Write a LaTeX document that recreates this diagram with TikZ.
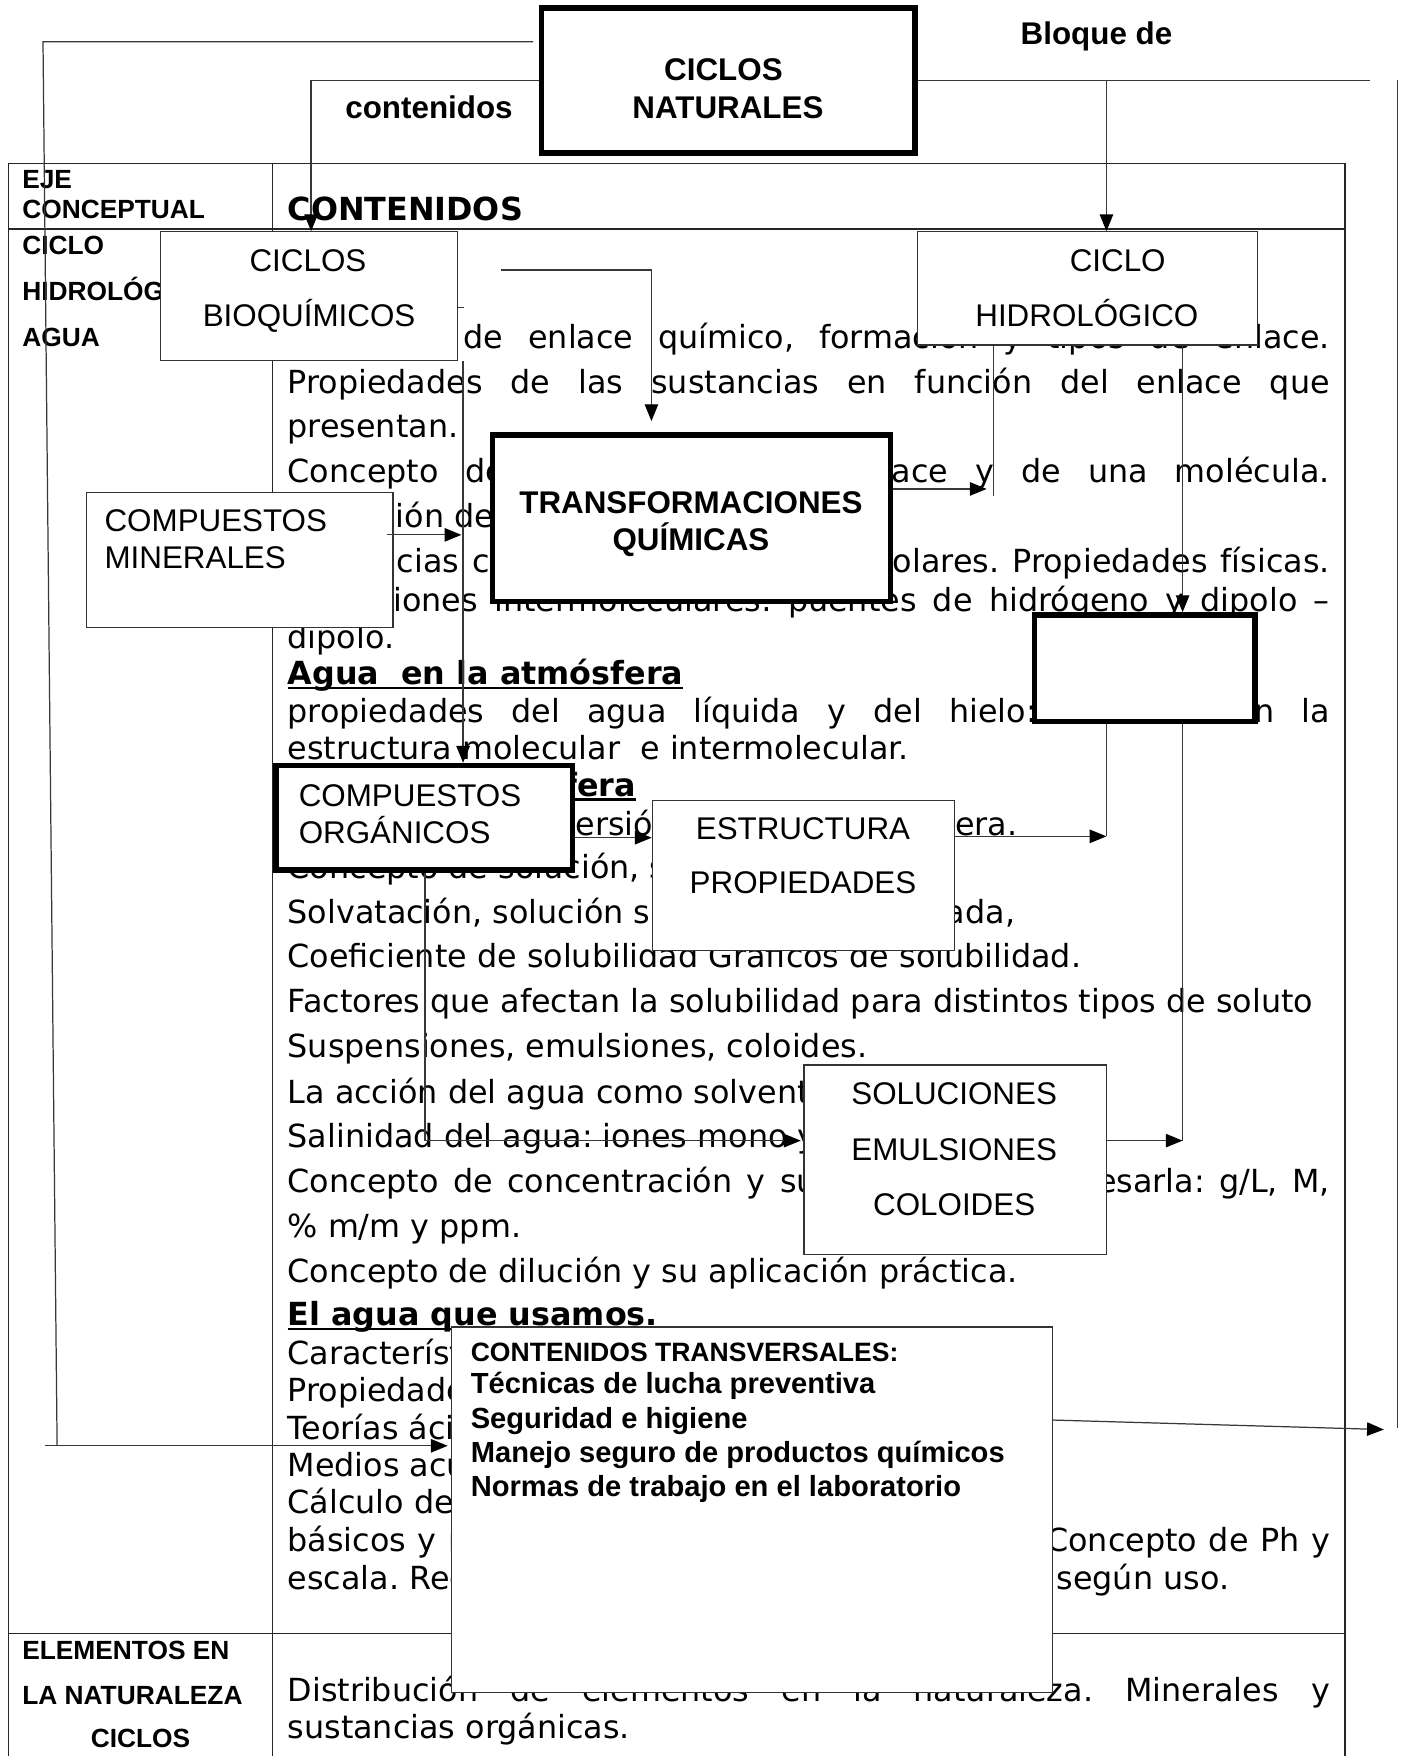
\documentclass[tikz,border=0pt]{standalone}
\usepackage{fontspec}
\setmainfont{DejaVu Sans}
\newfontfamily\ars{Liberation Sans}
\usetikzlibrary{arrows.meta}
\frenchspacing
\newcommand\bodyf{\fontsize{14.2pt}{17pt}\selectfont}
\newcommand\boxf{\ars\fontsize{14pt}{16pt}\selectfont}
\newcommand\boxbf{\ars\bfseries\fontsize{14pt}{16pt}\selectfont}
\newcommand\colbf{\ars\bfseries\fontsize{11.75pt}{14pt}\selectfont}
\newcommand\trvsmall{\ars\bfseries\fontsize{11.85pt}{14pt}\selectfont}
\newcommand\trvbig{\ars\bfseries\fontsize{13pt}{15pt}\selectfont}
\newcommand\jl[1]{\makebox[465.25pt][s]{#1}}
\newcommand\ulin[1]{\setbox0\hbox{#1}\rlap{\rule[-2pt]{\wd0}{1pt}}\box0}
\tikzset{
  tline/.style={draw=black!85, line width=0.6pt},
  thinbox/.style={draw=black!80, line width=0.55pt, fill=white, inner sep=0pt},
  thickbox/.style={draw=black, line width=2.4pt, fill=white, inner sep=0pt},
  conn/.style={draw=black!78, line width=0.55pt},
  arr/.style={conn, -{Triangle[length=7.5pt,width=6pt,color=black]}},
  body/.style={anchor=base west, inner sep=0pt, font=\bodyf},
  colt/.style={anchor=base west, inner sep=0pt, font=\colbf},
  bt/.style={anchor=base, inner sep=0pt, font=\boxf},
  btl/.style={anchor=base west, inner sep=0pt, font=\boxf},
  bbt/.style={anchor=base, inner sep=0pt, font=\boxbf},
  bbtl/.style={anchor=base west, inner sep=0pt, font=\boxbf},
}
\begin{document}
\begin{tikzpicture}[x=0.5pt,y=-0.5pt]
\useasboundingbox (0,0) rectangle (1255,1568);
\fill[white] (0,0) rectangle (1255,1568);

% ---------- table ----------
\draw[tline] (7.5,1568) -- (7.5,146) -- (1201,146) -- (1201,1568);
\draw[tline] (7.5,204.5) -- (1201,204.5);
\draw[tline] (7.5,1458.6) -- (1201,1458.6);
\draw[tline] (243.5,146) -- (243.5,1568);

% ---------- outside labels ----------
\node[bbtl] (bloque) at (911,40) {Bloque de};
\node[bbtl] (conten) at (308,105.7) {contenidos};

% ---------- left column ----------
\node[colt] (c1) at (19.5,168) {EJE};
\node[colt] (c2) at (19.5,195) {CONCEPTUAL};
\node[colt] (c3) at (19.5,227) {CICLO};
\node[colt] (c4) at (19.5,268) {HIDROLÓGICO};
\node[colt] (c5) at (19.5,309) {AGUA};
\node[colt] (c6) at (19.5,1482) {ELEMENTOS EN};
\node[colt] (c7) at (19.5,1522) {LA NATURALEZA};
\node[colt, anchor=base] (c8) at (125.5,1560) {CICLOS};

% ---------- right column ----------
\node[body, font=\bodyf\bfseries] (hdr) at (256.5,196.5) {CONTENIDOS};
\node[body] (t01) at (256.5,311) {\jl{Concepto de enlace químico, formación y tipos de enlace.}};
\node[body] (t02) at (256.5,351) {\jl{Propiedades de las sustancias en función del enlace que}};
\node[body] (t03) at (256.5,391) {presentan.};
\node[body] (t04) at (256.5,431) {\jl{Concepto de polaridad de un enlace y de una molécula.}};
\node[body] (t05) at (256.5,471) {\hspace*{-4pt}Formación de dipolos.};
\node[body] (t06) at (256.5,511) {\jl{Sustancias covalentes polares y no polares. Propiedades físicas.}};
\node[body] (t07) at (256.5,546) {\jl{\hspace*{2pt}Atracciones intermoleculares: puentes de hidrógeno y dipolo –}};
\node[body] (t08) at (256.5,579) {dipolo.};
\node[body] (t09) at (256.5,611) {\ulin{\bfseries Agua\ \ en la atmósfera}};
\node[body] (t10) at (256.5,645) {\jl{propiedades del agua líquida y del hielo: relación con la}};
\node[body] (t11) at (256.5,678) {estructura molecular\ \ e intermolecular.};
\node[body] (t12) at (256.5,711) {\ulin{\bfseries Agua en la biosfera}};
\node[body] (t13) at (256.5,746) {\hbox to 325.75pt{Concepto de\hspace{5pt} dispersión\hfill en la atmósfera.}};
\node[body] (t14) at (256.5,784) {Concepto de solución, soluto y solvente.};
\node[body] (t15) at (256.5,825) {\hbox to 324.75pt{Solvatación, solución saturada,\hfill insaturada,}};
\node[body] (t16) at (256.5,864) {Coeficiente de solubilidad Gráficos de solubilidad.};
\node[body] (t17) at (256.5,904) {Factores que afectan la solubilidad para distintos tipos de soluto};
\node[body] (t18) at (256.5,944) {Suspensiones, emulsiones, coloides.};
\node[body] (t19) at (256.5,985) {La acción del agua como solvente universal.};
\node[body] (t20) at (256.5,1025) {Salinidad del agua: iones mono y divalentes.};
\node[body] (t21) at (256.5,1065) {\jl{Concepto de concentración y sus formas de expresarla: g/L, M,}};
\node[body] (t22) at (256.5,1105) {\% m/m y ppm.};
\node[body] (t23) at (256.5,1145) {Concepto de dilución y su aplicación práctica.};
\node[body] (t24) at (256.5,1184) {\ulin{\bfseries El agua que usamos.}};
\node[body] (t25) at (256.5,1218) {Características del agua potable.};
\node[body] (t26) at (256.5,1251) {Propiedades del agua.};
\node[body] (t27) at (256.5,1285) {Teorías ácido – base.};
\node[body] (t28) at (256.5,1318) {Medios acuosos.};
\node[body] (t29) at (256.5,1351) {Cálculo de pH.};
\node[body] (t30) at (256.5,1385) {\jl{básicos y neutros. Neutralización. Indicadores. Concepto de Ph y}};
\node[body] (t31) at (256.5,1419) {\hbox to 420.25pt{escala. Requerimientos de calidad del agua\hfill según uso.}};
\node[body] (t32) at (256.5,1519) {\jl{Distribución de elementos en la naturaleza. Minerales y}};
\node[body] (t33) at (256.5,1552) {sustancias orgánicas.};

% ---------- boxes ----------
\node[thickbox, minimum width=166.75pt, minimum height=64.75pt] (nat) at (650.25,71.75) {};
\node[thinbox, minimum width=132.5pt, minimum height=57.5pt] (bio) at (276,264.5) {};
\node[thinbox, minimum width=151.75pt, minimum height=50.5pt] (hid) at (971.25,257.5) {};
\node[thinbox, minimum width=137pt, minimum height=60pt] (min) at (214,500) {};
\node[thickbox, minimum width=177.5pt, minimum height=74.25pt] (tra) at (617.5,462.75) {};
\node[thickbox, minimum width=98.25pt, minimum height=47.5pt] (blk) at (1022.25,596.5) {};
\node[thickbox, minimum width=132.25pt, minimum height=46.75pt] (org) at (378.75,730.25) {};
\node[thinbox, minimum width=134.75pt, minimum height=67pt] (est) at (717.25,782) {};
\node[thinbox, minimum width=135pt, minimum height=84.5pt] (sol) at (853,1035.5) {};
\node[thinbox, minimum width=268.1pt, minimum height=163pt] (trv) at (671.4,1348) {};

% ---------- box texts ----------
\node[bbt] (natA) at (646,72) {CICLOS};
\node[bbt] (natB) at (650,105.5) {NATURALES};
\node[bt] (bioA) at (275,242.6) {CICLOS};
\node[bt] (bioB) at (276,291.6) {BIOQUÍMICOS};
\node[bt] (hidA) at (998,242.6) {CICLO};
\node[bt] (hidB) at (970.5,291.6) {HIDROLÓGICO};
\node[btl] (minA) at (93,475) {COMPUESTOS};
\node[btl] (minB) at (93,508) {MINERALES};
\node[bbt] (traA) at (617,458.5) {TRANSFORMACIONES};
\node[bbt] (traB) at (617,491.6) {QUÍMICAS};
\node[btl] (orgA) at (266.4,720) {COMPUESTOS};
\node[btl] (orgB) at (266.4,753) {ORGÁNICOS};
\node[bt] (estA) at (717,750) {ESTRUCTURA};
\node[bt] (estB) at (717,798) {PROPIEDADES};
\node[bt] (solA) at (852,986) {SOLUCIONES};
\node[bt] (solB) at (852,1036) {EMULSIONES};
\node[bt] (solC) at (852,1085) {COLOIDES};
\node[anchor=base west, inner sep=0pt, font=\trvsmall] (trvA) at (420,1215.5) {CONTENIDOS TRANSVERSALES:};
\node[anchor=base west, inner sep=0pt, font=\trvbig] (trvB) at (420,1244.4) {Técnicas de lucha preventiva};
\node[anchor=base west, inner sep=0pt, font=\trvbig] (trvC) at (420,1275.8) {Seguridad e higiene};
\node[anchor=base west, inner sep=0pt, font=\trvbig] (trvD) at (420,1306.2) {Manejo seguro de productos químicos};
\node[anchor=base west, inner sep=0pt, font=\trvbig] (trvE) at (420,1336) {Normas de trabajo en el laboratorio};

% ---------- coordinates ----------
\coordinate (a1) at (476,37.2);
\coordinate (a0) at (38.4,37.2);
\coordinate (a2) at (51,1291);
\coordinate (a3) at (40,1291);
\coordinate (b1) at (277.8,71.7);
\coordinate (c1p) at (988,71.7);
\coordinate (c2p) at (1223.7,71.7);
\coordinate (d1) at (1248,71.4);
\coordinate (d2) at (1248,1275);
\coordinate (e1) at (938,1268);
\coordinate (e2) at (1235.7,1276.5);
\coordinate (f1) at (447,241);
\coordinate (f2) at (581.7,241);
\coordinate (f3) at (581.7,376);
\coordinate (g1) at (413.5,322);
\coordinate (s1) at (414.5,274.3);
\coordinate (h1) at (346,477.6);
\coordinate (h2) at (412,477.6);
\coordinate (i1) at (881,436.6);
\coordinate (j2) at (887,443);
\coordinate (k1) at (1056,500);
\coordinate (l1) at (1056,1018.5);
\coordinate (m1) at (988,746.8);
\coordinate (n1) at (512,748);
\coordinate (o1) at (379.4,1018.5);
\coordinate (o2) at (715,1018.5);

% ---------- connectors ----------
\draw[conn] (a1) -- (a0) -- (a2);
\draw[arr] (a3) -- ([xshift=-1.5pt]a3 -| trv.west);
\draw[arr] (nat.west |- b1) -- (b1) -- (b1 |- bio.north);
\draw[conn] (nat.east |- c1p) -- (c2p);
\draw[arr] (c1p) -- (c1p |- hid.north);
\draw[conn] (d1) -- (d2);
\draw[arr] (trv.east |- e1) -- (e2);
\draw[arr] (f1) -- (f2) -- (f3);
\draw[arr] (g1 |- bio.south) -- (g1 |- org.north);
\draw[conn] (bio.east |- s1) -- (s1);
\draw[arr] (h1) -- (h2);
\draw[arr] (tra.east |- i1) -- (i1);
\draw[conn] (j2 |- hid.south) -- (j2);
\draw[arr] (k1 |- hid.south) -- (k1 |- blk.north);
\draw[conn] (k1 |- blk.south) -- (l1);
\draw[arr] (sol.east |- l1) -- (l1);
\draw[conn] (m1 |- blk.south) -- (m1);
\draw[arr] (est.east |- m1) -- (m1);
\draw[arr] (org.east |- n1) -- (est.west |- n1);
\draw[conn] (o1 |- org.south) -- (o1);
\draw[arr] (o1) -- (o2);
\end{tikzpicture}
\end{document}
